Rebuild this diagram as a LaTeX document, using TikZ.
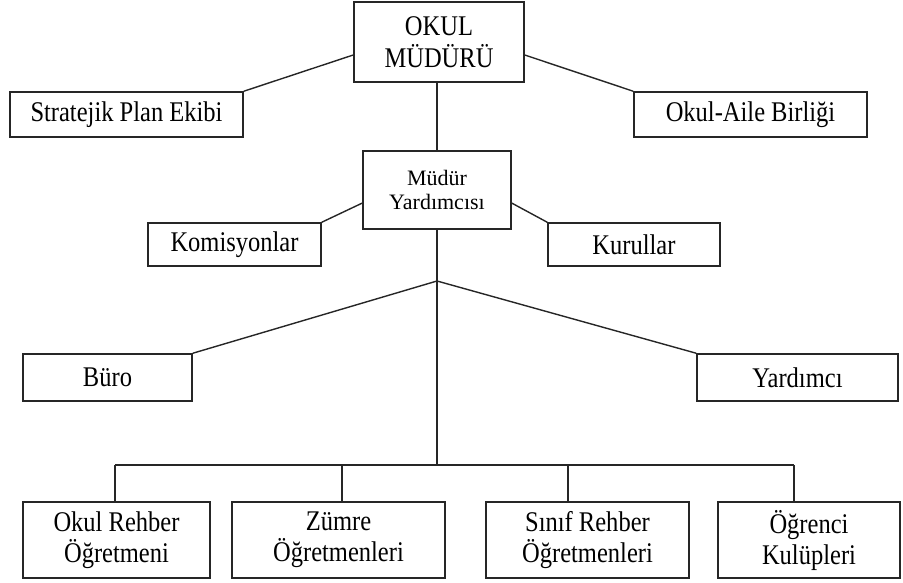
\documentclass[tikz,border=0pt]{standalone}
\usepackage{fontspec}
\setmainfont{Liberation Serif}
\newfontfamily\tallfont{Liberation Serif}[FakeStretch=0.86]
\usetikzlibrary{calc}
\tikzset{
  box/.style={draw=black!85, line width=1.5pt, inner sep=0pt, align=center,
    font=\tallfont\fontsize{28.5}{29}\selectfont},
  smallbox/.style={draw=black!85, line width=1.2pt, inner sep=0pt, align=center,
    font=\fontsize{22}{23.5}\selectfont},
  link/.style={draw=black!85, line width=1.4pt}
}
\begin{document}
\begin{tikzpicture}[x=1pt,y=-1pt]
\useasboundingbox (0,0) rectangle (903,583);
% nodes
\node[box, minimum width=170pt, minimum height=80pt] (okul) at (439,42) {OKUL\\[3pt]MÜDÜRÜ};
\node[box, minimum width=233pt, minimum height=45pt] (spe) at (126.5,114.5) {Stratejik Plan Ekibi};
\node[box, minimum width=233pt, minimum height=45pt] (oab) at (750.5,114.5) {Okul-Aile Birliği};
\node[smallbox, minimum width=148pt, minimum height=78pt] (my) at (437,190) {Müdür\\Yardımcısı};
\node[box, minimum width=173pt, minimum height=43pt] (kom) at (234.5,244.5) {Komisyonlar};
\node[box, minimum width=172pt, minimum height=43pt] (kur) at (634,244.5) {Kurullar};
\node[box, minimum width=169pt, minimum height=47pt] (buro) at (107.5,377.5) {Büro};
\node[box, minimum width=201pt, minimum height=47pt] (yard) at (797.5,377.5) {Yardımcı};
\node[box, minimum width=187pt, minimum height=76pt] (orb) at (116.5,540) {Okul Rehber\\[2pt]Öğretmeni};
\node[box, minimum width=213pt, minimum height=76pt] (zum) at (338.5,540) {Zümre\\[2pt]Öğretmenleri};
\node[box, minimum width=203pt, minimum height=76pt] (sinif) at (587.5,540) {Sınıf Rehber\\[2pt]Öğretmenleri};
\node[box, minimum width=182pt, minimum height=76pt] (ogr) at (809,540) {Öğrenci\\[2pt]Kulüpleri};
% coordinates
\coordinate (j) at (437,281);
\coordinate (bus) at (437,465);
\coordinate (b1) at (115,465);
\coordinate (b2) at (342,465);
\coordinate (b3) at (568,465);
\coordinate (b4) at (794,465);
% connectors
\draw[link] ([yshift=-13pt]okul.west) -- (spe.north east);
\draw[link] ([yshift=-13pt]okul.east) -- (oab.north west);
\draw[link] (my.north) -- (my.north |- okul.south);
\draw[link] ([yshift=-13pt]my.west) -- (kom.north east);
\draw[link] ([yshift=-13pt]my.east) -- (kur.north west);
\draw[link] (my.south) -- (j) -- (bus);
\draw[link] (j) -- (buro.north east);
\draw[link] (j) -- (yard.north west);
\draw[link] (b1) -- (b4);
\draw[link] (b1) -- (b1 |- orb.north);
\draw[link] (b2) -- (b2 |- zum.north);
\draw[link] (b3) -- (b3 |- sinif.north);
\draw[link] (b4) -- (b4 |- ogr.north);
\end{tikzpicture}
\end{document}
